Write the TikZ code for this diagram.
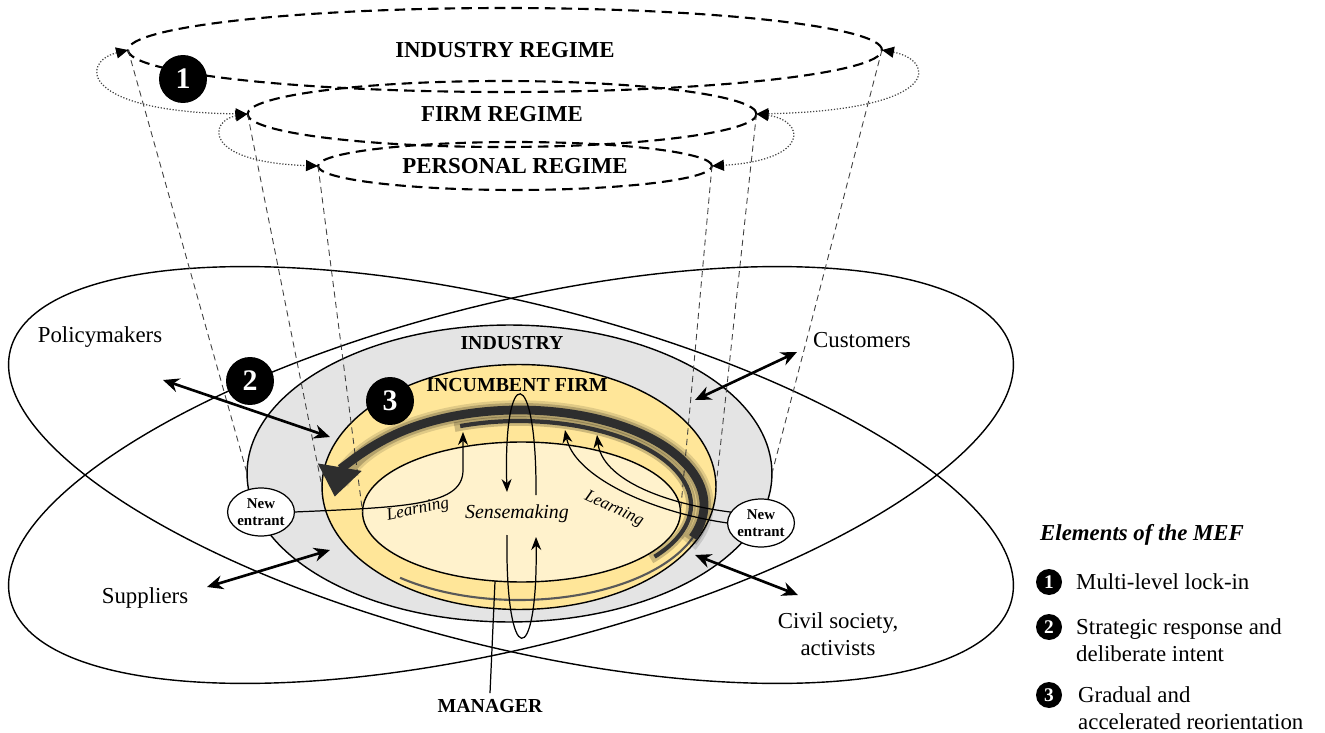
\documentclass[tikz,border=0pt]{standalone}
\usepackage{fontspec}
\setmainfont{Liberation Serif}
\usetikzlibrary{arrows.meta,positioning,shapes.geometric,calc}
\definecolor{indgray}{RGB}{228,228,228}
\definecolor{firmyellow}{RGB}{255,230,153}
\definecolor{mgrcream}{RGB}{255,242,204}
\definecolor{darkgray}{RGB}{70,70,70}
\begin{document}
\begin{tikzpicture}[
    x=0.02cm, y=-0.02cm,
    ring/.style={draw=black, line width=0.8pt},
    level/.style={ellipse, draw=black, line width=0.8pt, inner sep=0pt, outer sep=0pt},
    regime/.style={ellipse, draw=black, line width=1.2pt, dash pattern=on 6pt off 3.5pt, inner sep=0pt, outer sep=0pt, font=\fontsize{13}{15}\selectfont\bfseries},
    lockin/.style={draw=darkgray, line width=0.7pt, densely dotted, {Triangle[length=0.24cm,width=0.22cm,color=black]}-{Triangle[length=0.24cm,width=0.22cm,color=black]}},
    funnel/.style={draw=black!75, line width=0.5pt, dash pattern=on 3.5pt off 2.5pt},
    actor/.style={font=\fontsize{13}{15.4}\selectfont, align=center},
    tier/.style={font=\fontsize{11.3}{13}\selectfont\bfseries},
    process/.style={font=\fontsize{11.3}{13}\selectfont\itshape},
    entrant/.style={ellipse, draw=black, line width=0.7pt, fill=white, inner sep=0pt, outer sep=0pt, minimum width=1.32cm, minimum height=0.96cm, align=center, font=\fontsize{8.5}{10}\selectfont\bfseries},
    loop/.style={draw=black, line width=0.7pt, -{Stealth[length=0.26cm,width=0.2cm]}},
    flow/.style={draw=black, line width=1.5pt, {Stealth[length=0.32cm,width=0.28cm]}-{Stealth[length=0.32cm,width=0.28cm]}},
    badge/.style={circle, fill=black, text=white, inner sep=0pt, minimum size=0.96cm, font=\fontsize{17}{17}\selectfont\bfseries},
    key/.style={circle, fill=black, text=white, inner sep=0pt, minimum size=0.52cm, font=\fontsize{11}{11}\selectfont\bfseries}
  ]
  \useasboundingbox (0,0) rectangle (1325,733);

  % stakeholder rings
  \draw[ring, rotate around={-14:(511,475)}] (511,475) ellipse [x radius=516, y radius=172];
  \draw[ring, rotate around={14:(511,475)}] (511,475) ellipse [x radius=516, y radius=172];

  % nested levels
  \node[level, fill=indgray, minimum width=10.5cm, minimum height=5.94cm] (industry) at (509.5,473.5) {};
  \node[level, fill=firmyellow, minimum width=7.88cm, minimum height=4.9cm] (firm) at (519,487) {};
  \node[level, fill=mgrcream, minimum width=6.36cm, minimum height=2.8cm] (sense) at (521.5,512) {};

  % regimes
  \node[regime, minimum width=15.08cm, minimum height=1.68cm] (indreg) at (505,50) {INDUSTRY REGIME};
  \node[regime, minimum width=10.18cm, minimum height=1.32cm] (firmreg) at (502,114) {FIRM REGIME};
  \node[regime, minimum width=7.88cm, minimum height=0.96cm] (persreg) at (515,166) {PERSONAL REGIME};

  \draw[funnel] (indreg.west) -- (industry.west);
  \draw[funnel] (firmreg.west) -- (firm.west);
  \draw[funnel] (persreg.west) -- (sense.west);
  \draw[funnel] (indreg.east) -- (industry.east);
  \draw[funnel] (firmreg.east) -- (firm.east);
  \draw[funnel] (persreg.east) -- (sense.east);

  \draw[lockin] (indreg.west) .. controls (80,62) and (80,112) .. (firmreg.west);
  \draw[lockin] (firmreg.west) .. controls (210,120) and (200,162) .. (persreg.west);
  \draw[lockin] (indreg.east) .. controls (935,60) and (945,110) .. (firmreg.east);
  \draw[lockin] (firmreg.east) .. controls (805,120) and (812,160) .. (persreg.east);

  % reorientation swirl
  \coordinate (swirl) at (519,505);
  \draw[black!65, line width=1.2pt] (swirl) ++(130:185 and 95) arc[start angle=130, end angle=20, x radius=185, y radius=95];
  \draw[black, opacity=0.12, line width=11pt] (swirl) ++(24:185 and 95) arc[start angle=24, end angle=-166, x radius=185, y radius=95];
  \draw[black, opacity=0.2, line width=8pt] (swirl) ++(22:185 and 95) arc[start angle=22, end angle=-168, x radius=185, y radius=95];
  \draw[black!82, line width=5pt, -{Triangle[length=0.6cm,width=0.85cm]}] (swirl) ++(20:185 and 95) arc[start angle=20, end angle=-175, x radius=185, y radius=95];
  \draw[black, opacity=0.2, line width=5.5pt] (swirl) ++(40:172 and 84) arc[start angle=40, end angle=-112, x radius=172, y radius=84];
  \draw[black!80, line width=2.4pt] (swirl) ++(38:172 and 84) arc[start angle=38, end angle=-110, x radius=172, y radius=84];

  % labels
  \node[actor] (policy) at (100,337) {Policymakers};
  \node[actor] (cust) at (862,340) {Customers};
  \node[actor] (supp) at (145,598) {Suppliers};
  \node[actor] (civil) at (838,634) {Civil society,\\activists};
  \node[tier] (indlab) at (512,343) {INDUSTRY};
  \node[tier] (firmlab) at (517,385) {INCUMBENT FIRM};
  \node[tier] (mgr) at (490,706) {MANAGER};
  \node[process] (smlab) at (517,514) {Sensemaking};
  \node[process, font=\fontsize{9.8}{11}\selectfont\itshape, rotate=12] (learnlabL) at (418,510) {Learning};
  \node[process, font=\fontsize{9.8}{11}\selectfont\itshape, rotate=-25] (learnlabR) at (614,509) {Learning};

  % sensemaking loops
  \draw[loop] (536,495) .. controls (537,362) and (503,362) .. (507,492);
  \draw[loop] (507,535) .. controls (505,671) and (538,671) .. (536,537);
  \draw[line width=0.7pt] (mgr.north) -- (sense.249);

  % new entrants and learning
  \node[entrant] (entL) at (261,512) {New\\entrant};
  \node[entrant] (entR) at (761,523) {New\\entrant};
  \coordinate (learnL) at (463,432);
  \coordinate (learnRa) at (565,430);
  \coordinate (learnRb) at (597,435);
  \draw[loop] (entL.east) .. controls (410,507) and (463,505) .. (463,470) -- (learnL);
  \draw[loop] (entR.west) .. controls (650,512) and (574,476) .. (learnRa);
  \draw[loop] (entR.160) .. controls (660,503) and (602,478) .. (learnRb);

  % strategic responses
  \coordinate (pm) at (163,380); \coordinate (pmin) at (330,437);
  \coordinate (cu) at (797,352); \coordinate (cuin) at (695,400);
  \coordinate (su) at (207,587); \coordinate (suin) at (330,550);
  \coordinate (cs) at (798,595); \coordinate (csin) at (695,555);
  \draw[flow] (pm) -- (pmin);
  \draw[flow] (cu) -- (cuin);
  \draw[flow] (su) -- (suin);
  \draw[flow] (cs) -- (csin);

  \node[badge] (b1) at (183,79) {1};
  \node[badge] (b2) at (250,381) {2};
  \node[badge] (b3) at (390,401) {3};

  % legend
  \node[anchor=west, font=\fontsize{13}{15}\selectfont\bfseries\itshape] (legtitle) at (1034,535) {Elements of the MEF};
  \node[key] (k1) at (1049,582) {1};
  \node[key] (k2) at (1049,627) {2};
  \node[key] (k3) at (1049,695) {3};
  \node[actor, anchor=west, align=left] (t1) at (1070,582) {Multi-level lock-in};
  \node[actor, anchor=west, align=left] (t2) at (1070,640) {Strategic response and\\deliberate intent};
  \node[actor, anchor=west, align=left] (t3) at (1072,708) {Gradual and\\accelerated reorientation};
\end{tikzpicture}
\end{document}
